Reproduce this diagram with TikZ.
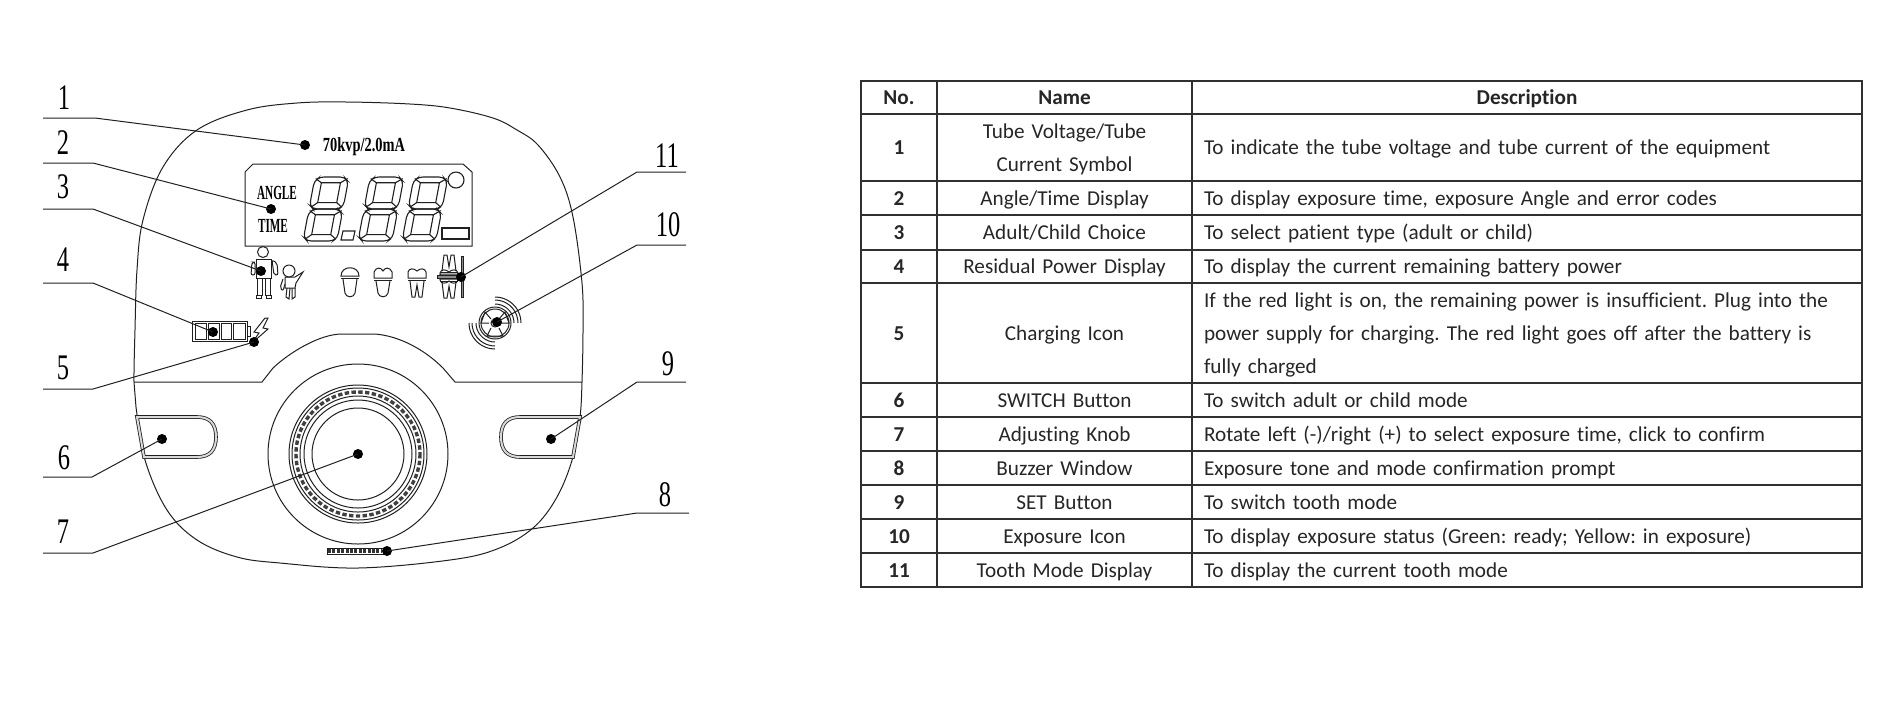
\documentclass[tikz,border=0pt]{standalone}
\usepackage{fontspec}
\setmainfont[RawFeature={-liga,-dlig,-clig}]{Carlito}
\newfontfamily\drawfont{Liberation Serif}
\usetikzlibrary{positioning}
\definecolor{tableLine}{HTML}{303030}
\definecolor{drawLine}{HTML}{202020}
\newcommand{\tallnum}[1]{\scalebox{0.68}[1]{#1}}
\newcommand{\lcdtext}[1]{\scalebox{0.72}[1]{#1}}
\newcommand{\lcdword}[1]{\scalebox{0.56}[1]{#1}}
\frenchspacing
\tikzset{
  numlabel/.style={inner sep=0pt, font=\drawfont\fontsize{18}{18}\selectfont, text=black},
  lcdlabel/.style={inner sep=0pt, font=\drawfont\bfseries\fontsize{10}{10}\selectfont, text=black},
  leader/.style={draw=drawLine, line width=0.5pt},
  leaderdot/.style={circle, fill=black, inner sep=0pt, minimum size=5pt},
  outline/.style={draw=drawLine, line width=0.5pt},
  segline/.style={draw=drawLine, line width=0.55pt},
  btnline/.style={draw=drawLine, line width=0.4pt, double=black!15, double distance=1pt},
  digitcell/.style={x={(17pt,0pt)}, y={(3pt,16pt)}},
  cell/.style={draw=tableLine, line width=0.6pt, outer sep=0pt, inner sep=0pt, text=black!85,
    font=\fontsize{10.6}{16.5}\selectfont, execute at begin node={\rule[-2pt]{0pt}{11pt}}},
  cellno/.style={cell, minimum width=38pt, font=\bfseries\fontsize{10.6}{16.5}\selectfont},
  cellname/.style={cell, minimum width=127.5pt, text width=124pt, align=center},
  celldesc/.style={cell, minimum width=335pt, text width=323pt, inner xsep=6pt, align=left},
  molar/.pic={
    \draw[outline] (0,4) .. controls (1,0) and (6,0) .. (9,3) .. controls (12,0) and (17,0) .. (18,4)
      -- (18,10) -- (0,10) -- cycle;
    \draw[outline] (0,12) -- (18,12);
    \draw[outline] (2,13) -- (4,29) -- (7,29) -- (9,17) -- (11,29) -- (14,29) -- (16,13);
  }
}
\begin{document}
\begin{tikzpicture}[x=0.5pt, y=-0.5pt]
\useasboundingbox (0,0) rectangle (1880,720);

% housing
\draw[outline] plot[smooth cycle, tension=0.6] coordinates {(347,102) (297,103) (247,110) (197,130) (163,167)
  (143,220) (137,270) (135,330) (134,382) (136,407) (145,460) (167,510) (197,540) (237,557) (280,563)
  (358,568) (450,560) (497,549) (533,528) (557,497) (573,457) (580,417) (582,382) (583,330) (582,283)
  (573,217) (560,177) (538,145) (517,130) (493,118) (450,108) (410,104)};
\draw[outline] (134,382) -- (262,382) -- (273,368) .. controls (290,352) and (320,334) .. (342,334)
  -- (375,334) .. controls (400,336) and (425,350) .. (443,368) -- (455,382) -- (582,382);

% display
\draw[outline] (253,164) -- (463,164) -- (472,172) -- (472,246) -- (245,246) -- (245,172) -- cycle;
\foreach \dx in {303,358,402}{
\begin{scope}[shift={(\dx,241)}, digitcell]
\foreach \v in {0,1}{
  \draw[segline, rounded corners=2pt] (0.12,\v) -- (0.88,\v) -- (1,\v+0.12) -- (1,\v+0.86) -- (0.86,\v+1)
    -- (0.14,\v+1) -- (0,\v+0.86) -- (0,\v+0.12) -- cycle;
  \draw[segline] (0.22,\v+0.2) -- (0.78,\v+0.2) -- (0.78,\v+0.82) -- (0.22,\v+0.82) -- cycle;
  \draw[segline] (0.05,\v+0.06) -- (0.22,\v+0.2);
  \draw[segline] (0.95,\v+0.06) -- (0.78,\v+0.2);
  \draw[segline] (0.03,\v+0.95) -- (0.22,\v+0.82);
  \draw[segline] (0.97,\v+0.95) -- (0.78,\v+0.82);
}
\end{scope}
}
\draw[segline] (343,231) -- (355,231) -- (353,240) -- (341,240) -- cycle;
\draw[segline] (442,228) rectangle (469,239);
\draw[segline] (456,180) circle[radius=8];
\node (angleText) [lcdlabel] at (277,193) {\lcdword{ANGLE}};
\node (timeText) [lcdlabel] at (273,226) {\lcdword{TIME}};
\node (ratingText) [lcdlabel] at (364,147) {\lcdtext{70kvp/2.0mA}};

% adult and child
\draw[outline] (263,252) circle[radius=5.5];
\draw[outline] (256,259) -- (271,259) -- (271,278) -- (256,278) -- cycle;
\draw[outline, rounded corners=1pt] (252,262) -- (255,262) -- (255,275) -- (251,275) -- cycle;
\draw[outline, rounded corners=1pt] (272,260) -- (277,263) -- (278,275) -- (274,275) -- cycle;
\draw[outline] (257,278) -- (257,295) -- (262,295) -- (262,278);
\draw[outline] (265,278) -- (265,295) -- (270,295) -- (270,278);
\draw[outline] (256,295) rectangle (261,298);
\draw[outline] (266,295) rectangle (271,298);
\draw[outline] (289,271) circle[radius=6];
\draw[outline] (285,277) -- (295,277) -- (303,272) -- (296,283) -- (295,288) -- (285,288) -- cycle;
\draw[outline, rounded corners=1pt] (283,279) -- (280,288) -- (283,291) -- (285,284);
\draw[outline] (287,288) -- (286,297) -- (289,299) -- (290,288);
\draw[outline] (292,288) -- (292,299) -- (295,297) -- (295,288);

% teeth
\draw[outline] (341,276) .. controls (341,265) and (359,265) .. (359,276) -- cycle;
\draw[outline] (341,278) -- (359,278);
\draw[outline] (343,279) -- (345,293) .. controls (346,298) and (354,298) .. (355,293) -- (357,279);
\draw[outline] (374,272) .. controls (376,267) and (381,267) .. (383,271) .. controls (385,267) and (390,267) .. (392,272)
  -- (392,278) -- (374,278) -- cycle;
\draw[outline] (374,280) -- (392,280);
\draw[outline] (376,281) -- (378,293) .. controls (379,298) and (387,298) .. (388,293) -- (390,281);
\pic at (408,268) {molar};
\pic at (440,269) {molar};
\pic[yscale=-1] at (440,284) {molar};
\draw[outline, fill=black!45] (437,275) rectangle (462,278);
\draw[outline, fill=black!45] (461,256) rectangle (463,297);

% battery and charging
\draw[outline] (192,321) rectangle (247,341);
\draw[outline] (195,323) rectangle (206,339);
\draw[outline] (208,323) rectangle (219,339);
\draw[outline] (221,323) rectangle (231,339);
\draw[outline] (233,323) rectangle (245,339);
\draw[outline] (247,326) rectangle (250,336);
\draw[outline] (265,318) -- (254,332) -- (259,333) -- (252,343) -- (268,329) -- (263,328) -- (268,318) -- cycle;

% exposure icon
\draw[outline] (495,323) circle[radius=16];
\draw[outline] (495,323) circle[radius=14];
\draw[outline] (495,323) circle[radius=4];
\draw[outline] (489,323) -- (481,323) -- (485,312) -- (491,319);
\draw[outline] (501,323) -- (509,323) -- (505,312) -- (499,319);
\draw[outline] (491,328) -- (487,336) -- (503,336) -- (499,328);
\foreach \rad in {19,23,26}{
  \draw[outline] plot[smooth, domain=-90:0, samples=10] ({495+\rad*cos(\x)},{323+\rad*sin(\x)});
  \draw[outline] plot[smooth, domain=90:180, samples=10] ({495+\rad*cos(\x)},{323+\rad*sin(\x)});
}

% knob
\draw[outline] (358,454) circle[radius=90];
\draw[outline] (358,454) circle[radius=69];
\draw[outline] (358,454) circle[radius=66];
\draw[outline] (358,454) circle[radius=58];
\draw[outline] (358,454) circle[radius=54];
\draw[outline] (358,454) circle[radius=46];
\draw[draw=black!75, line width=1.7pt, dash pattern=on 2.2pt off 1.2pt] (358,454) circle[radius=62];

% buttons
\draw[btnline] (137,417) -- (197,417) .. controls (210,417) and (216,424) .. (216,437)
  .. controls (216,450) and (210,457) .. (197,457) -- (144,457) -- cycle;
\draw[btnline] (580,417) -- (520,417) .. controls (507,417) and (501,424) .. (501,437)
  .. controls (501,450) and (507,457) .. (520,457) -- (573,457) -- cycle;

% buzzer
\draw[draw=drawLine, line width=0.4pt] (327,548) rectangle (383,554);
\draw[draw=black!80, line width=1.6pt, dash pattern=on 1.5pt off 0.7pt] (328,551) -- (382,551);

% callouts
\node (dotOne) [leaderdot] at (305,145) {};
\node (numOne) [numlabel] at (64,98) {\tallnum{1}};
\coordinate (startOne) at (43,118);
\coordinate (bendOne) at (95,118);
\draw[leader] (startOne) -- (bendOne) -- (dotOne.center);

\node (dotTwo) [leaderdot] at (271,209) {};
\node (numTwo) [numlabel] at (63,143) {\tallnum{2}};
\coordinate (startTwo) at (43,163);
\coordinate (bendTwo) at (93,163);
\draw[leader] (startTwo) -- (bendTwo) -- (dotTwo.center);

\node (dotThree) [leaderdot] at (261,271) {};
\node (numThree) [numlabel] at (63,187) {\tallnum{3}};
\coordinate (startThree) at (43,209);
\coordinate (bendThree) at (93,209);
\draw[leader] (startThree) -- (bendThree) -- (dotThree.center);

\node (dotFour) [leaderdot] at (213,332) {};
\node (numFour) [numlabel] at (63,260) {\tallnum{4}};
\coordinate (startFour) at (43,283);
\coordinate (bendFour) at (93,283);
\draw[leader] (startFour) -- (bendFour) -- (dotFour.center);

\node (dotFive) [leaderdot] at (254,342) {};
\node (numFive) [numlabel] at (63,368) {\tallnum{5}};
\coordinate (startFive) at (43,389);
\coordinate (bendFive) at (93,389);
\draw[leader] (startFive) -- (bendFive) -- (dotFive.center);

\node (dotSix) [leaderdot] at (162,439) {};
\node (numSix) [numlabel] at (64,458) {\tallnum{6}};
\coordinate (startSix) at (43,477);
\coordinate (bendSix) at (92,477);
\draw[leader] (startSix) -- (bendSix) -- (dotSix.center);

\node (dotSeven) [leaderdot] at (358,454) {};
\node (numSeven) [numlabel] at (63,532) {\tallnum{7}};
\coordinate (startSeven) at (43,553);
\coordinate (bendSeven) at (93,553);
\draw[leader] (startSeven) -- (bendSeven) -- (dotSeven.center);

\node (dotEight) [leaderdot] at (387,551) {};
\node (numEight) [numlabel] at (665,495) {\tallnum{8}};
\coordinate (startEight) at (689,513);
\coordinate (bendEight) at (637,513);
\draw[leader] (startEight) -- (bendEight) -- (dotEight.center);

\node (dotNine) [leaderdot] at (551,439) {};
\node (numNine) [numlabel] at (668,364) {\tallnum{9}};
\coordinate (startNine) at (686,382);
\coordinate (bendNine) at (637,382);
\draw[leader] (startNine) -- (bendNine) -- (dotNine.center);

\node (dotTen) [leaderdot] at (497,322) {};
\node (numTen) [numlabel] at (668,225) {\tallnum{10}};
\coordinate (startTen) at (686,245);
\coordinate (bendTen) at (637,245);
\draw[leader] (startTen) -- (bendTen) -- (dotTen.center);

\node (dotEleven) [leaderdot] at (461,277) {};
\node (numEleven) [numlabel] at (667,156) {\tallnum{11}};
\coordinate (startEleven) at (686,172);
\coordinate (bendEleven) at (637,172);
\draw[leader] (startEleven) -- (bendEleven) -- (dotEleven.center);

% table
\node (noHead) [cellno, minimum height=16.5pt, anchor=north west] at (861,81) {No.};
\node (nameHead) [cellname, font=\bfseries\fontsize{10.6}{16.5}\selectfont, minimum height=16.5pt, right=0pt of noHead] {Name};
\node (descHead) [celldesc, align=center, font=\bfseries\fontsize{10.6}{16.5}\selectfont, minimum height=16.5pt, right=0pt of nameHead] {Description};

\node (noA) [cellno, minimum height=33.5pt, below=0pt of noHead] {1};
\node (nameA) [cellname, minimum height=33.5pt, right=0pt of noA] {Tube Voltage/Tube\\Current Symbol};
\node (descA) [celldesc, minimum height=33.5pt, right=0pt of nameA] {To indicate the tube voltage and tube current of the equipment};

\node (noB) [cellno, minimum height=17pt, below=0pt of noA] {2};
\node (nameB) [cellname, minimum height=17pt, right=0pt of noB] {Angle/Time Display};
\node (descB) [celldesc, minimum height=17pt, right=0pt of nameB] {To display exposure time, exposure Angle and error codes};

\node (noC) [cellno, minimum height=17.5pt, below=0pt of noB] {3};
\node (nameC) [cellname, minimum height=17.5pt, right=0pt of noC] {Adult/Child Choice};
\node (descC) [celldesc, minimum height=17.5pt, right=0pt of nameC] {To select patient type (adult or child)};

\node (noD) [cellno, minimum height=16.5pt, below=0pt of noC] {4};
\node (nameD) [cellname, minimum height=16.5pt, right=0pt of noD] {Residual Power Display};
\node (descD) [celldesc, minimum height=16.5pt, right=0pt of nameD] {To display the current remaining battery power};

\node (noE) [cellno, minimum height=50pt, below=0pt of noD] {5};
\node (nameE) [cellname, minimum height=50pt, right=0pt of noE] {Charging Icon};
\node (descE) [celldesc, minimum height=50pt, right=0pt of nameE] {If the red light is on, the remaining power is insufficient. Plug into the\\power supply for charging. The red light goes off after the battery is\\fully charged};

\node (noF) [cellno, minimum height=17pt, below=0pt of noE] {6};
\node (nameF) [cellname, minimum height=17pt, right=0pt of noF] {SWITCH Button};
\node (descF) [celldesc, minimum height=17pt, right=0pt of nameF] {To switch adult or child mode};

\node (noG) [cellno, minimum height=17pt, below=0pt of noF] {7};
\node (nameG) [cellname, minimum height=17pt, right=0pt of noG] {Adjusting Knob};
\node (descG) [celldesc, minimum height=17pt, right=0pt of nameG] {Rotate left (-)/right (+) to select exposure time, click to confirm};

\node (noH) [cellno, minimum height=17pt, below=0pt of noG] {8};
\node (nameH) [cellname, minimum height=17pt, right=0pt of noH] {Buzzer Window};
\node (descH) [celldesc, minimum height=17pt, right=0pt of nameH] {Exposure tone and mode confirmation prompt};

\node (noI) [cellno, minimum height=17pt, below=0pt of noH] {9};
\node (nameI) [cellname, minimum height=17pt, right=0pt of noI] {SET Button};
\node (descI) [celldesc, minimum height=17pt, right=0pt of nameI] {To switch tooth mode};

\node (noJ) [cellno, minimum height=17pt, below=0pt of noI] {10};
\node (nameJ) [cellname, minimum height=17pt, right=0pt of noJ] {Exposure Icon};
\node (descJ) [celldesc, minimum height=17pt, right=0pt of nameJ] {To display exposure status (Green: ready; Yellow: in exposure)};

\node (noK) [cellno, minimum height=17pt, below=0pt of noJ] {11};
\node (nameK) [cellname, minimum height=17pt, right=0pt of noK] {Tooth Mode Display};
\node (descK) [celldesc, minimum height=17pt, right=0pt of nameK] {To display the current tooth mode};

\end{tikzpicture}
\end{document}
